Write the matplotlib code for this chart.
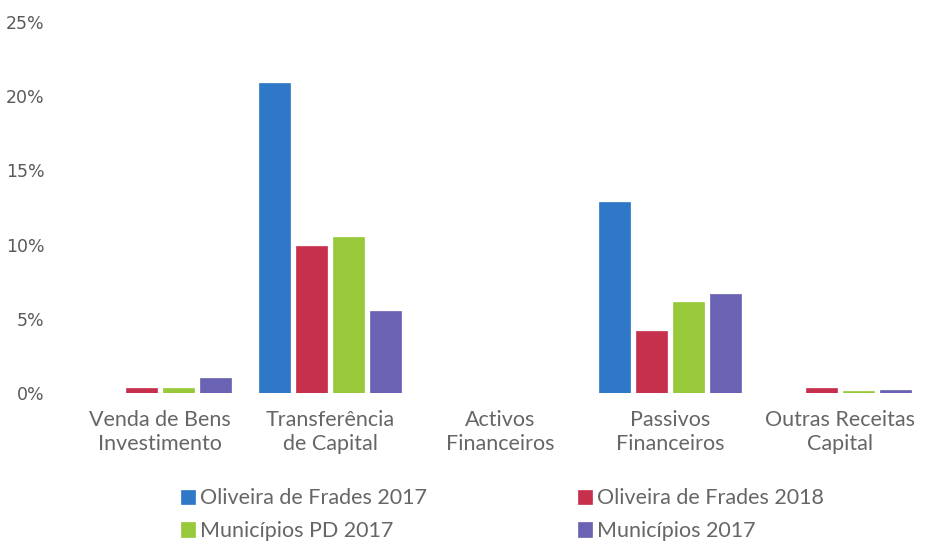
import matplotlib
matplotlib.use("Agg")
import matplotlib.pyplot as plt
import numpy as np

# categorias e valores (%)
categorias = ["Venda de Bens\nInvestimento", "Transferência\nde Capital", "Activos\nFinanceiros",
              "Passivos\nFinanceiros", "Outras Receitas\nCapital"]
series = ["Oliveira de Frades 2017", "Oliveira de Frades 2018", "Municípios PD 2017", "Municípios 2017"]
of_2017 = [0.0, 20.9, 0.0, 12.9, 0.0]
of_2018 = [0.35, 9.9, 0.0, 4.2, 0.35]
mun_pd_2017 = [0.35, 10.5, 0.0, 6.1, 0.15]
mun_2017 = [1.0, 5.5, 0.0, 6.7, 0.2]
yticks = [0, 5, 10, 15, 20, 25]

cores = ["#2F78C8", "#C7304C", "#98C93A", "#6A62B2"]
valores = [of_2017, of_2018, mun_pd_2017, mun_2017]

fig = plt.figure(figsize=(9.29, 5.44), dpi=100)
ax = fig.add_axes([0.0807, 0.2776, 0.915, 0.682])

x = np.arange(len(categorias))
passo = 0.218
barras = []
for i, (vals, cor, nome) in enumerate(zip(valores, cores, series)):
    b = ax.bar(x + (i - 1.5) * passo, vals, width=0.18, color=cor, label=nome,
               edgecolor=cor, linewidth=0.5)
    barras.append(b)

ax.set_xlim(-0.5, 4.5)
ax.set_ylim(0, 25)
ax.set_yticks(yticks)
ax.set_yticklabels([f"{v}%" for v in yticks], fontsize=12.5, color="#5a5a5a")
ax.set_xticks(x)
ax.set_xticklabels(categorias, fontsize=15.5, color="#666666", family="Lato", linespacing=1.3)
ax.tick_params(length=0, pad=12)
ax.tick_params(axis="y", pad=22)
for s in ax.spines.values():
    s.set_visible(False)

# legenda preenchida por linhas (matplotlib preenche por colunas)
ordem = [0, 2, 1, 3]
leg = fig.legend([barras[k] for k in ordem], [series[k] for k in ordem],
                 loc="upper left", bbox_to_anchor=(0.174, 0.138), ncol=2, frameon=False,
                 handlelength=0.65, handleheight=0.65, handletextpad=0.25,
                 columnspacing=7.0, labelspacing=0.6,
                 prop={"family": "Lato", "size": 15.5})
for t in leg.get_texts():
    t.set_color("#666666")

fig.savefig("out.png", dpi=100)
